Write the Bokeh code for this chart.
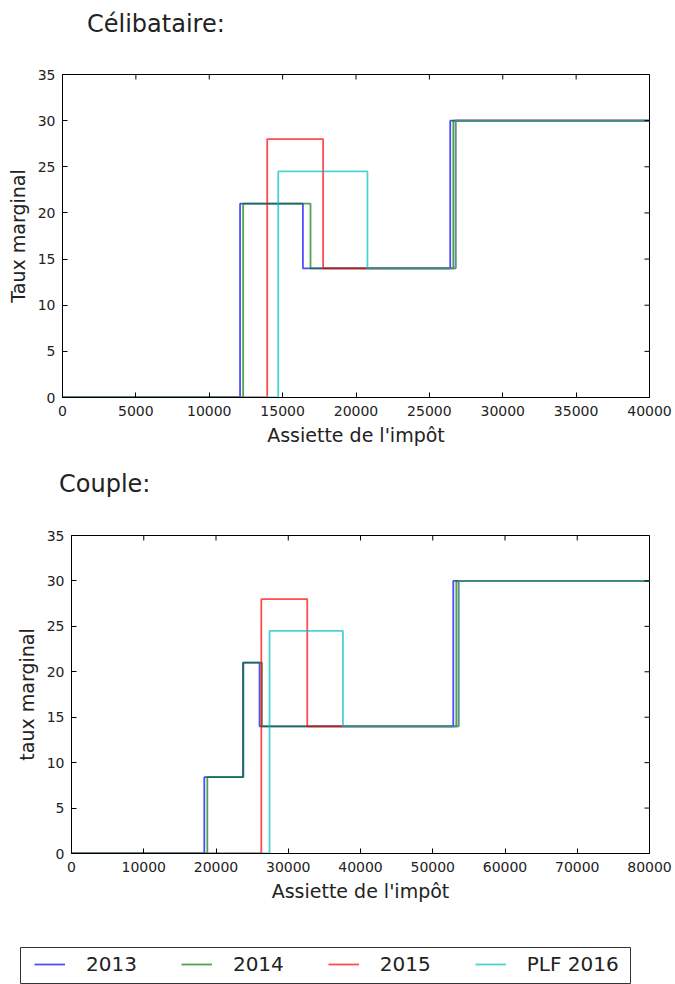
import math
from bokeh.plotting import figure
from bokeh.layouts import column
from bokeh.models import Div, Range1d, FixedTicker, Legend, LegendItem
from bokeh.core.properties import value
from bokeh.embed import file_html
from bokeh.resources import INLINE

# ---------------- data ----------------
series_names = ["2013", "2014", "2015", "PLF 2016"]

# Célibataire : income breakpoints and marginal rates (step "after")
celib_x_2013 = [0, 12100, 16380, 26420, 40000]
celib_y_2013 = [0, 21, 14, 30, 30]
celib_x_2014 = [0, 12310, 16900, 26631, 40000]
celib_y_2014 = [0, 21, 14, 30, 30]
celib_x_2015 = [0, 13950, 17760, 26791, 40000]
celib_y_2015 = [0, 28, 14, 30, 30]
celib_x_2016 = [0, 14700, 20780, 26791, 40000]
celib_y_2016 = [0, 24.5, 14, 30, 30]

# Couple
couple_x_2013 = [0, 18380, 23730, 26030, 52840, 80000]
couple_y_2013 = [0, 8.4, 21, 14, 30, 30]
couple_x_2014 = [0, 18800, 23800, 26360, 53262, 80000]
couple_y_2014 = [0, 8.4, 21, 14, 30, 30]
couple_x_2015 = [0, 26270, 32630, 53582, 80000]
couple_y_2015 = [0, 28, 14, 30, 30]
couple_x_2016 = [0, 27410, 37570, 53582, 80000]
couple_y_2016 = [0, 24.5, 14, 30, 30]

celib_xticks = [0, 5000, 10000, 15000, 20000, 25000, 30000, 35000, 40000]
couple_xticks = [0, 10000, 20000, 30000, 40000, 50000, 60000, 70000, 80000]
yticks = [0, 5, 10, 15, 20, 25, 30, 35]
y_max = 35

# ---------------- style ----------------
colors = ["#0000ff", "#008000", "#ff0000", "#00bfbf"]
ALPHA = 0.7
LW = 1.8
FONT = "DejaVu Sans"
TXT = "#222222"
W = 675


def title_div(text, left, top, height):
    html = ('<div style="position:relative; left:%dpx; top:%dpx; font-family:\'DejaVu Sans\'; '
            'font-size:24px; line-height:24px; color:#222; white-space:nowrap;">%s</div>') % (left, top, text)
    return Div(text=html, width=W, height=height, margin=0)


def make_fig(height, bl, bt, bb, xmax, xticks, ylabel, xs, ys):
    p = figure(width=W, height=height, output_backend="svg", toolbar_location=None,
               x_range=Range1d(0, xmax), y_range=Range1d(0, y_max),
               min_border_left=bl, min_border_right=26, min_border_top=bt, min_border_bottom=bb,
               background_fill_color="white", border_fill_color="white")
    p.margin = 0
    p.grid.visible = False
    p.outline_line_color = "black"
    p.outline_line_width = 1
    for x, y, c in zip(xs, ys, colors):
        p.step(x, y, mode="after", line_color=c, line_alpha=ALPHA, line_width=LW)

    # inward tick marks on the top and right edges (half of each dash is clipped by the frame)
    p.scatter(x=xticks, y=[y_max] * len(xticks), marker="dash", angle=math.pi / 2, size=10,
              line_color="black", line_width=1)
    p.scatter(x=[xmax] * len(yticks), y=yticks, marker="dash", angle=0, size=10,
              line_color="black", line_width=1)

    for ax, t in ((p.xaxis[0], xticks), (p.yaxis[0], yticks)):
        ax.ticker = FixedTicker(ticks=t)
        ax.minor_tick_line_color = None
        ax.major_tick_in = 5
        ax.major_tick_out = 0
        ax.major_tick_line_color = "black"
        ax.axis_line_color = "black"
        ax.major_label_text_font = FONT
        ax.major_label_text_font_size = "14px"
        ax.major_label_text_color = TXT
        ax.axis_label_text_font = FONT
        ax.axis_label_text_font_size = "19px"
        ax.axis_label_text_font_style = "normal"
        ax.axis_label_text_color = TXT
    p.xaxis[0].axis_label = "Assiette de l'impôt"
    p.xaxis[0].major_label_standoff = 8
    p.xaxis[0].axis_label_standoff = 5
    p.yaxis[0].axis_label = ylabel
    p.yaxis[0].major_label_standoff = 7
    p.yaxis[0].axis_label_standoff = 6
    return p


div1 = title_div("Célibataire:", 87, 12, 58)
p1 = make_fig(402, 62, 16, 63, 40000, celib_xticks, "Taux marginal",
              [celib_x_2013, celib_x_2014, celib_x_2015, celib_x_2016],
              [celib_y_2013, celib_y_2014, celib_y_2015, celib_y_2016])

div2 = title_div("Couple:", 59, 12, 55)
p2 = make_fig(415, 71, 20, 77, 80000, couple_xticks, "taux marginal",
              [couple_x_2013, couple_x_2014, couple_x_2015, couple_x_2016],
              [couple_y_2013, couple_y_2014, couple_y_2015, couple_y_2016])

# legend strip (its frame outline acts as the legend box)
p3 = figure(width=W, height=54, output_backend="svg", toolbar_location=None,
            x_range=Range1d(0, 1), y_range=Range1d(0, 1), x_axis_type=None, y_axis_type=None,
            min_border_left=20, min_border_right=45, min_border_top=17, min_border_bottom=0)
p3.margin = 0
p3.outline_line_color = "#333333"
p3.outline_line_width = 1
# off-range sample points: only their legend swatches are seen
rends = [p3.line(x=[2, 3], y=[2, 3], line_color=c, line_alpha=ALPHA, line_width=LW) for c in colors]
leg = Legend(items=[LegendItem(label=value(n), renderers=[r]) for n, r in zip(series_names, rends)],
             orientation="horizontal", location=(14, 8), margin=0, padding=0,
             glyph_width=31, glyph_height=20, label_standoff=21, spacing=44,
             label_text_font=FONT, label_text_font_size="20px", label_text_color=TXT,
             border_line_color=None, background_fill_alpha=0)
p3.add_layout(leg)

layout = column(div1, column(p1, margin=0), div2, column(p2, margin=0), column(p3, margin=0),
                spacing=0, margin=0)
open("out.html", "w").write(file_html(layout, INLINE))
